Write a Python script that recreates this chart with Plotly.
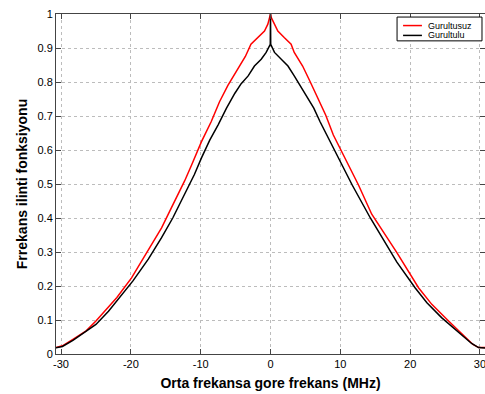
import plotly.graph_objects as go

# Gurultusuz (noise-free) correlation
red_freq = [-30.72, -29.8, -28.3, -26.4, -25.0, -23.5, -22.0, -19.9, -18.0, -15.6, -14.2, -12.3,
            -11.3, -9.9, -8.5, -7.3, -6.1, -4.9, -3.6, -2.8, -1.8, -0.86, -0.38, -0.1, 0.0,
            0.1, 0.33, 1.05, 2.0, 2.95, 3.4, 4.6, 5.7, 6.7, 7.9, 9.0, 10.2, 11.4, 12.6, 14.5,
            18.1, 21.2, 23.1, 25.5, 27.4, 29.0, 29.8, 30.72]
red_val = [0.019, 0.024, 0.043, 0.068, 0.097, 0.131, 0.166, 0.224, 0.288, 0.371, 0.43, 0.509,
           0.556, 0.624, 0.683, 0.742, 0.79, 0.83, 0.875, 0.911, 0.93, 0.95, 0.97, 0.99, 1.0,
           0.99, 0.98, 0.95, 0.93, 0.911, 0.887, 0.847, 0.80, 0.757, 0.703, 0.644, 0.595, 0.546,
           0.497, 0.411, 0.298, 0.195, 0.146, 0.097, 0.058, 0.028, 0.019, 0.019]

# Gurultulu (noisy) correlation
blk_freq = [-30.72, -29.8, -28.3, -26.4, -25.0, -23.2, -21.6, -19.7, -17.5, -15.6, -14.0, -11.6,
            -10.9, -9.9, -8.7, -7.5, -6.3, -5.1, -4.2, -3.2, -2.3, -1.33, -0.62, -0.03, 0.0,
            0.03, 0.57, 1.5, 2.5, 3.4, 4.2, 5.2, 6.2, 7.1, 8.3, 9.5, 10.7, 11.7, 14.3, 18.1,
            20.7, 22.4, 24.5, 26.9, 28.8, 29.8, 30.72]
blk_val = [0.018, 0.022, 0.040, 0.066, 0.087, 0.126, 0.166, 0.215, 0.279, 0.342, 0.40, 0.499,
           0.528, 0.576, 0.629, 0.674, 0.723, 0.767, 0.795, 0.818, 0.847, 0.867, 0.887, 0.911, 1.0,
           0.911, 0.887, 0.867, 0.847, 0.818, 0.79, 0.757, 0.723, 0.683, 0.634, 0.585, 0.536,
           0.497, 0.40, 0.27, 0.195, 0.151, 0.107, 0.063, 0.031, 0.019, 0.018]

series_names = ["Gurultusuz", "Gurultulu"]
series_colors = ["#ff0000", "#000000"]

x_ticks = [-30, -20, -10, 0, 10, 20, 30]
x_ticktext = ["-30", "-20", "-10", "0", "10", "20", "30"]
y_ticks = [0, 0.1, 0.2, 0.3, 0.4, 0.5, 0.6, 0.7, 0.8, 0.9, 1]
y_ticktext = ["0", "0.1", "0.2", "0.3", "0.4", "0.5", "0.6", "0.7", "0.8", "0.9", "1"]

fig = go.Figure()
fig.add_trace(go.Scatter(x=red_freq, y=red_val, mode="lines", name=series_names[0],
                         line=dict(color=series_colors[0], width=1.5)))
fig.add_trace(go.Scatter(x=blk_freq, y=blk_val, mode="lines", name=series_names[1],
                         line=dict(color=series_colors[1], width=1.5)))

font_family = "Liberation Sans, Arial, Helvetica, sans-serif"
axis_common = dict(
    showline=True, linecolor="#444444", linewidth=1, mirror="ticks",
    ticks="inside", ticklen=5, tickcolor="#444444",
    showgrid=True, gridcolor="#bcbcbc", griddash="dot", gridwidth=1,
    zeroline=False, tickfont=dict(family=font_family, size=11, color="#000000"),
)

fig.update_layout(
    width=485, height=394,
    margin=dict(l=56, r=0, t=14, b=40),
    paper_bgcolor="white", plot_bgcolor="white",
    font=dict(family=font_family, color="#000000"),
    xaxis=dict(range=[-30.72, 30.72], tickvals=x_ticks, ticktext=x_ticktext,
               ticklabeloverflow="allow",
               title=dict(text="<b>Orta frekansa gore frekans (MHz)</b>",
                          font=dict(size=14, family=font_family), standoff=8),
               **axis_common),
    yaxis=dict(range=[0, 1], tickvals=y_ticks, ticktext=y_ticktext,
               title=dict(text="<b>Frrekans ilinti fonksiyonu</b>",
                          font=dict(size=14, family=font_family), standoff=6),
               **axis_common),
    showlegend=False,
)

# Compact MATLAB-style legend box (paper coordinates)
fig.add_shape(type="rect", xref="paper", yref="paper", x0=0.795, x1=0.993, y0=0.921, y1=0.991,
              line=dict(color="#000000", width=1), fillcolor="white", layer="above")
row_y = [0.966, 0.937]
for name, color, yy in zip(series_names, series_colors, row_y):
    fig.add_shape(type="line", xref="paper", yref="paper", x0=0.809, x1=0.853, y0=yy, y1=yy,
                  line=dict(color=color, width=1.5), layer="above")
    fig.add_annotation(text=name, xref="paper", yref="paper", x=0.862, y=yy,
                       xanchor="left", yanchor="middle", showarrow=False,
                       font=dict(size=9, family=font_family, color="#000000"))

fig.write_html("out.html")
